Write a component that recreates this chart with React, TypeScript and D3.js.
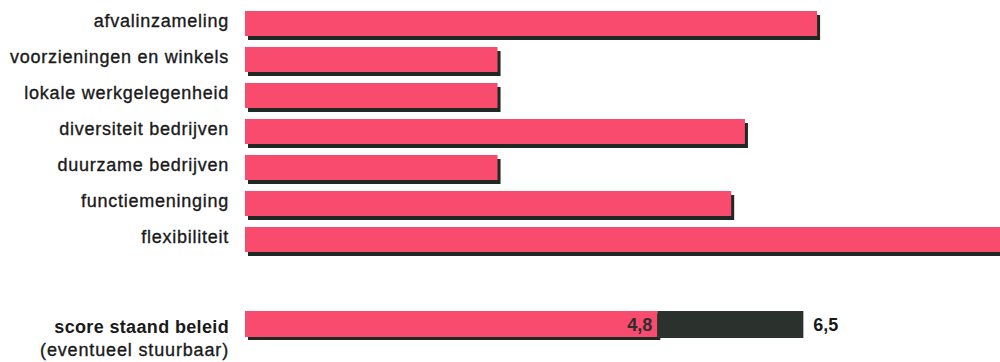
import React from "react";
import * as d3 from "d3";

const categories = [
  "afvalinzameling",
  "voorzieningen en winkels",
  "lokale werkgelegenheid",
  "diversiteit bedrijven",
  "duurzame bedrijven",
  "functiemeninging",
  "flexibiliteit",
];
const values = [6.66, 2.94, 2.94, 5.82, 2.94, 5.66, 9.2];
const scoreLabel = "score staand beleid";
const scoreSub = "(eventueel stuurbaar)";
const scoreCurrent = 4.8;
const scoreMax = 6.5;
const scoreCurrentText = "4,8";
const scoreMaxText = "6,5";

const W = 1000;
const H = 362;
const PINK = "#f94b6e";
const SHADOW = "#1f2823";
const DARK = "#2b322e";
const FONT = "Liberation Sans, Arial, sans-serif";

export default function App() {
  const x = d3.scaleLinear().domain([0, 1]).range([245, 245 + 85.9]);
  const step = 36;
  const y = d3
    .scaleBand<string>()
    .domain(categories)
    .range([11, 11 + step * categories.length - 11])
    .paddingInner(11 / step)
    .paddingOuter(0);
  const bh = y.bandwidth();
  const scoreTop = 311;
  const off = 3;

  const labelStyle = { fontFamily: FONT };

  return (
    <svg
      width={W}
      height={H}
      style={{ position: "absolute", left: 0, top: 0, display: "block" }}
    >
      <rect width={W} height={H} fill="#ffffff" />
      {categories.map((c, i) => {
        const top = y(c)!;
        return (
          <g key={c}>
            <rect x={x(0) + off} y={top + off + 1} width={x(values[i]) - x(0)} height={bh} fill={SHADOW} />
            <rect x={x(0)} y={top} width={x(values[i]) - x(0)} height={bh} fill={PINK} />
            <text
              x={229}
              y={top + 16}
              textAnchor="end"
              fontSize={18}
              letterSpacing={0.75}
              fill="#1a1a1a"
              stroke="#1a1a1a"
              strokeWidth={0.35}
              style={labelStyle}
            >
              {c}
            </text>
          </g>
        );
      })}
      <g>
        <rect x={x(0) + off} y={scoreTop + off} width={x(scoreCurrent) - x(0)} height={bh + 1} fill={SHADOW} />
        <rect x={x(0)} y={scoreTop} width={x(scoreCurrent) - x(0)} height={bh + 1} fill={PINK} />
        <rect x={x(scoreCurrent)} y={scoreTop} width={x(scoreMax) - x(scoreCurrent)} height={bh + 2} fill={DARK} />
        <text x={x(scoreCurrent) - 5} y={scoreTop + 20} textAnchor="end" fontSize={18} fontWeight="bold" fill="#2e2e2e" style={labelStyle}>
          {scoreCurrentText}
        </text>
        <text x={x(scoreMax) + 10} y={scoreTop + 20} textAnchor="start" fontSize={18} fontWeight="bold" fill="#1a1a1a" style={labelStyle}>
          {scoreMaxText}
        </text>
        <text x={229} y={333} textAnchor="end" fontSize={18} fontWeight="bold" letterSpacing={0.35} fill="#1a1a1a" style={labelStyle}>
          {scoreLabel}
        </text>
        <text x={229} y={356} textAnchor="end" fontSize={18} letterSpacing={0.85} fill="#1a1a1a" stroke="#1a1a1a" strokeWidth={0.35} style={labelStyle}>
          {scoreSub}
        </text>
      </g>
    </svg>
  );
}
